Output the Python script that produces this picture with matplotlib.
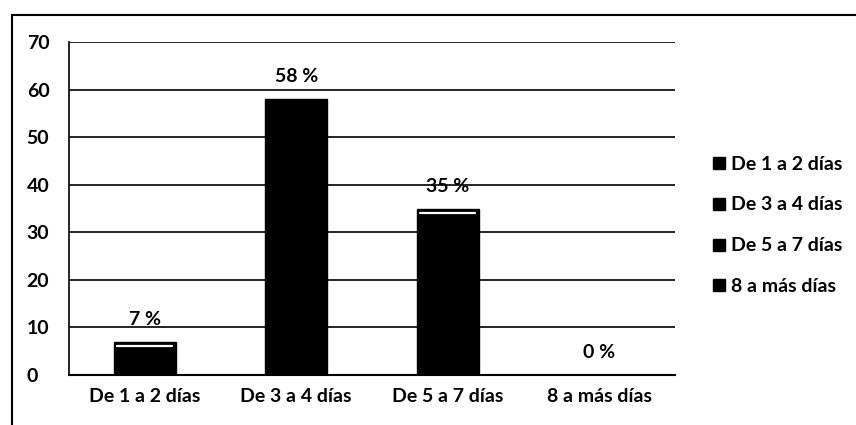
import matplotlib.pyplot as plt
from matplotlib.patches import Rectangle

categorias = ['De 1 a 2 días', 'De 3 a 4 días', 'De 5 a 7 días', '8 a más días']
valores = [7, 58, 35, 0]
etiquetas = ['7 %', '58 %', '35 %', '0 %']

plt.rcParams['font.family'] = ['Lato', 'DejaVu Sans']
plt.rcParams['font.weight'] = 'bold'
fs = 14

fig = plt.figure(figsize=(8.56, 4.25), dpi=100)
W, H = 856, 425
ax = fig.add_axes([69 / W, 1 - 375 / H, 606 / W, 333 / H])

x = range(len(categorias))
bars = ax.bar(x, valores, width=0.41, color='black', edgecolor='black', zorder=3)
for i, (b, v, t) in enumerate(zip(bars, valores, etiquetas)):
    ax.text(b.get_x() + b.get_width() / 2, v + 4.7, t, ha='center', va='center',
            fontsize=fs, zorder=4)
    # thin white highlight near the top of the bar (scan look)
    if v > 0 and i != 1:
        ax.plot([b.get_x() + 0.025, b.get_x() + b.get_width() - 0.025], [v - 0.9, v - 0.9],
                color='white', lw=1.6, solid_capstyle='round', zorder=4)

ax.set_ylim(0, 70)
ax.set_xlim(-0.5, 3.5)
ax.set_yticks(range(0, 71, 10))
ax.set_xticks(list(x))
ax.set_xticklabels(categorias)
ax.yaxis.grid(True, color='black', lw=1.2, zorder=0)
ax.tick_params(axis='both', length=0, labelsize=fs)
ax.tick_params(axis='y', pad=30.5)
ax.tick_params(axis='x', pad=9)
for lab in ax.get_yticklabels():
    lab.set_horizontalalignment('left')
for s in ['top', 'right']:
    ax.spines[s].set_visible(False)
ax.spines['left'].set_linewidth(1.2)
ax.spines['bottom'].set_linewidth(1.5)

# legend
handles = [plt.Line2D([], [], marker='s', color='black', ls='', markersize=8.5) for _ in categorias]
fig.legend(handles, categorias, loc='upper left', bbox_to_anchor=(694 / W, 1 - 138 / H),
           frameon=False, fontsize=fs, handletextpad=0.2, labelspacing=1.23,
           handlelength=0.8)

# outer frame
fig.patches.append(Rectangle((12 / W, -0.1), 1.0, 1 - 15 / H + 0.1, transform=fig.transFigure,
                             fill=False, edgecolor='black', lw=1.5))

fig.savefig('out.png', dpi=100)
